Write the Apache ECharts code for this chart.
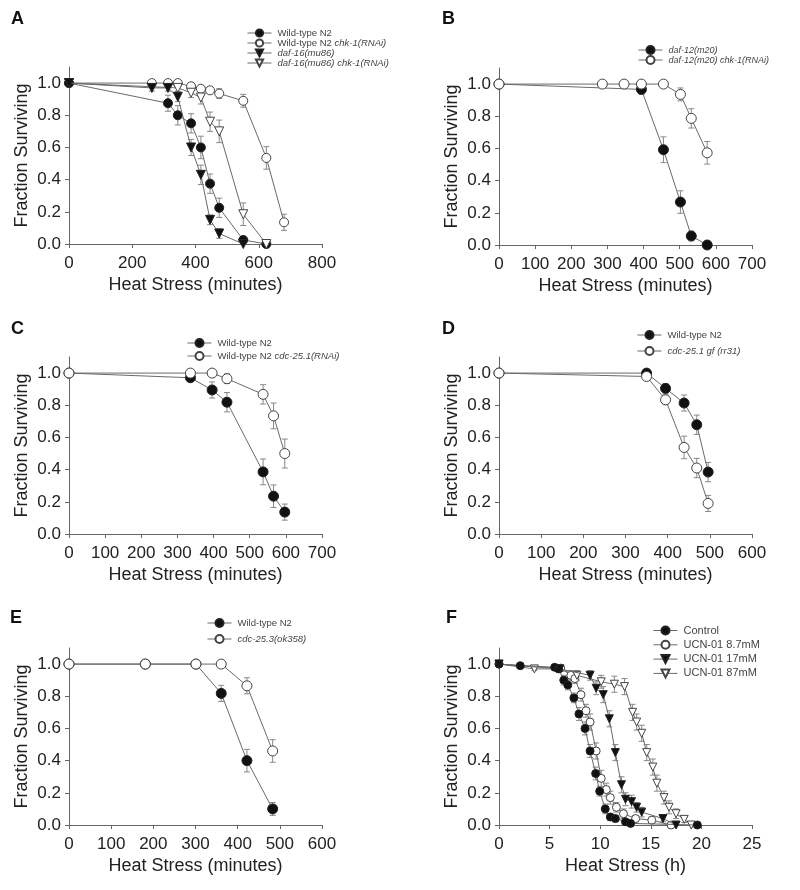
<!DOCTYPE html>
<html><head><meta charset="utf-8">
<script src="https://cdn.jsdelivr.net/npm/echarts@6/dist/echarts.min.js"></script>
<style>html,body{margin:0;padding:0;background:#fff}#c{width:800px;height:890px}</style>
</head><body><div id="c"></div>
<script>
// Each point: [x, fraction surviving, error (sem)]
// Panel A
const A_wt = [[0,1,0],[313,0.875,0.05],[344,0.80,0.06],[386,0.75,0.06],[417,0.60,0.07],[446,0.375,0.06],[475,0.225,0.06],[551,0.025,0.02],[624,0,0]];
const A_chk = [[0,1,0],[262,1,0],[313,1,0.01],[344,1,0.01],[386,0.98,0.02],[417,0.965,0.02],[446,0.955,0.02],[475,0.935,0.03],[551,0.89,0.04],[624,0.535,0.07],[680,0.135,0.05]];
const A_daf = [[0,1,0],[262,0.97,0.02],[313,0.97,0.02],[344,0.915,0.03],[386,0.60,0.05],[417,0.43,0.06],[446,0.15,0.03],[475,0.065,0.03],[551,0,0]];
const A_dafchk = [[0,1,0],[344,0.97,0.02],[386,0.94,0.03],[417,0.91,0.04],[446,0.76,0.06],[475,0.70,0.07],[551,0.185,0.07],[624,0,0]];
// Panel B
const B_daf12 = [[0,1,0],[394,0.967,0.03],[455,0.592,0.08],[502,0.267,0.07],[532,0.056,0.03],[576,0,0]];
const B_daf12chk = [[0,1,0],[286,1,0],[346,1,0],[394,1,0],[455,1,0],[502,0.936,0.04],[532,0.787,0.06],[576,0.573,0.07]];
// Panel C
const C_wt = [[0,1,0],[336,0.971,0.02],[396,0.895,0.05],[437,0.819,0.06],[537,0.386,0.08],[566,0.235,0.07],[597,0.136,0.05]];
const C_cdc = [[0,1,0],[336,1,0],[396,1,0],[437,0.965,0.03],[537,0.868,0.06],[566,0.734,0.08],[597,0.50,0.09]];
// Panel D
const D_wt = [[0,1,0],[350,1,0],[395,0.905,0.03],[439,0.814,0.05],[469,0.679,0.06],[496,0.385,0.06]];
const D_gf = [[0,1,0],[350,0.979,0.01],[395,0.834,0.03],[439,0.538,0.07],[469,0.41,0.06],[496,0.19,0.05]];
// Panel E
const E_wt = [[0,1,0],[181,1,0],[301,1,0],[361,0.818,0.05],[422,0.40,0.07],[483,0.10,0.04]];
const E_cdc = [[0,1,0],[181,1,0],[301,1,0],[361,1,0],[422,0.865,0.05],[483,0.46,0.07]];
// Panel F (hours)
const F_ctrl = [[0,1,0],[2.1,0.99,0],[5.5,0.98,0.01],[5.9,0.97,0.01],[6.4,0.90,0.03],[6.8,0.87,0.03],[7.4,0.79,0.03],[7.9,0.69,0.04],[8.5,0.60,0.04],[9.0,0.46,0.04],[9.55,0.32,0.04],[9.95,0.21,0.03],[10.5,0.10,0.03],[11.0,0.05,0.02],[11.5,0.04,0.02],[12.5,0.02,0.01],[13.0,0.01,0],[19.6,0,0]];
const F_87 = [[0,1,0],[6.1,0.975,0.01],[7.1,0.93,0.03],[7.5,0.91,0.03],[8.1,0.81,0.04],[8.6,0.71,0.04],[9.0,0.64,0.05],[9.6,0.46,0.05],[10.1,0.29,0.05],[10.6,0.22,0.04],[11.0,0.17,0.04],[11.6,0.11,0.03],[12.3,0.07,0.03],[13.5,0.04,0.02],[15.1,0.03,0.02],[17.0,0,0]];
const F_17 = [[0,1,0],[6.0,0.97,0.01],[9.0,0.93,0.03],[9.6,0.85,0.04],[10.3,0.81,0.05],[10.9,0.66,0.05],[11.5,0.45,0.05],[12.1,0.25,0.05],[12.5,0.16,0.04],[13.1,0.145,0.04],[13.6,0.11,0.03],[14.1,0.08,0.03],[16.2,0.04,0.02],[17.5,0,0]];
const F_870 = [[0,1,0],[3.5,0.97,0.01],[6.0,0.97,0.01],[7.7,0.93,0.03],[10.1,0.89,0.04],[11.4,0.875,0.05],[12.4,0.86,0.05],[13.2,0.70,0.05],[13.6,0.64,0.05],[14.1,0.57,0.05],[14.6,0.45,0.05],[15.2,0.36,0.05],[15.6,0.26,0.05],[16.3,0.17,0.04],[16.8,0.11,0.04],[17.5,0.07,0.03],[18.3,0.035,0.02],[19.0,0,0]];

// Axis ticks
const xTicksA = [0,800,200], xTicksB = [0,700,100], xTicksC = [0,700,100], xTicksD = [0,600,100], xTicksE = [0,600,100], xTicksF = [0,25,5];
const yTicks = [0,0.2,0.4,0.6,0.8,1.0];
const panelLetters = ['A','B','C','D','E','F'];
const xTitles = ['Heat Stress (minutes)','Heat Stress (minutes)','Heat Stress (minutes)','Heat Stress (minutes)','Heat Stress (minutes)','Heat Stress (h)'];
const yTitle = 'Fraction Surviving';

// Legend labels: [normal part, italic part]
const labels = {
  A0:['Wild-type N2',''], A1:['Wild-type N2 ','chk-1(RNAi)'], A2:['','daf-16(mu86)'], A3:['','daf-16(mu86) chk-1(RNAi)'],
  B0:['','daf-12(m20)'], B1:['','daf-12(m20) chk-1(RNAi)'],
  C0:['Wild-type N2',''], C1:['Wild-type N2 ','cdc-25.1(RNAi)'],
  D0:['Wild-type N2',''], D1:['','cdc-25.1 gf (rr31)'],
  E0:['Wild-type N2',''], E1:['','cdc-25.3(ok358)'],
  F0:['Control',''], F1:['UCN-01 8.7mM',''], F2:['UCN-01 17mM',''], F3:['UCN-01 87mM','']
};

const FONT = 'Liberation Sans, Arial, sans-serif';
const grids = [
  {left:69, top:67, width:253, height:177},
  {left:499, top:68, width:253, height:177},
  {left:69, top:357, width:253, height:177},
  {left:499, top:357, width:253, height:177},
  {left:69, top:648, width:253, height:177},
  {left:499, top:648, width:253, height:177}
];
const xt = [xTicksA, xTicksB, xTicksC, xTicksD, xTicksE, xTicksF];
const axisColor = '#666';
const lineColor = '#6a6a6a';

const xAxis = xt.map((t,i)=>({
  type:'value', gridIndex:i, min:t[0], max:t[1], interval:t[2],
  name:xTitles[i], nameLocation:'middle', nameGap:32,
  nameTextStyle:{fontFamily:FONT, fontSize:18, color:'#222'},
  axisLine:{show:true, lineStyle:{color:axisColor, width:1}},
  axisTick:{show:true, length:4, lineStyle:{color:axisColor}},
  axisLabel:{fontFamily:FONT, fontSize:17, color:'#222', margin:11},
  splitLine:{show:false}
}));
const yAxis = grids.map((g,i)=>({
  type:'value', gridIndex:i, min:0, max:1.1,
  name:yTitle, nameLocation:'middle', nameGap:38, nameRotate:90,
  nameTextStyle:{fontFamily:FONT, fontSize:18, color:'#222'},
  axisLine:{show:true, lineStyle:{color:axisColor, width:1}},
  axisTick:{show:true, length:4, lineStyle:{color:axisColor}, customValues:yTicks},
  axisLabel:{fontFamily:FONT, fontSize:17, color:'#222', margin:8, customValues:yTicks, formatter:v=>v.toFixed(1)},
  splitLine:{show:false}
}));

const styles = {
  filledCircle:{symbol:'circle', rot:0, color:'#111', border:'#222'},
  openCircle:{symbol:'circle', rot:0, color:'#fff', border:'#444'},
  filledTri:{symbol:'triangle', rot:180, color:'#111', border:'#222'},
  openTri:{symbol:'triangle', rot:180, color:'#fff', border:'#444'}
};

const series = [];
function add(id, data, gi, st, size, z){
  series.push({
    type:'custom', name:id+'_err', xAxisIndex:gi, yAxisIndex:gi, data:data, z:1, silent:true,
    encode:{x:0, y:1},
    renderItem:(params, api)=>{
      const x=api.value(0), y=api.value(1), e=api.value(2);
      if(!e) return null;
      const lo=api.coord([x,y-e]), hi=api.coord([x,y+e]), w=3;
      const s={stroke:'#888', lineWidth:1};
      return {type:'group', children:[
        {type:'line', shape:{x1:lo[0],y1:lo[1],x2:hi[0],y2:hi[1]}, style:s},
        {type:'line', shape:{x1:hi[0]-w,y1:hi[1],x2:hi[0]+w,y2:hi[1]}, style:s},
        {type:'line', shape:{x1:lo[0]-w,y1:lo[1],x2:lo[0]+w,y2:lo[1]}, style:s}
      ]};
    }
  });
  series.push({
    type:'line', name:id, xAxisIndex:gi, yAxisIndex:gi,
    data:data.map(d=>[d[0],d[1]]),
    symbol:st.symbol, symbolSize:size, symbolRotate:st.rot, showAllSymbol:true,
    lineStyle:{color:lineColor, width:1},
    itemStyle:{color:st.color, borderColor:st.border, borderWidth:1},
    emphasis:{disabled:true}, z:z||2, clip:false
  });
}
add('A0', A_wt, 0, styles.filledCircle, 9, 3);
add('A1', A_chk, 0, styles.openCircle, 9, 2);
add('A2', A_daf, 0, styles.filledTri, 9, 4);
add('A3', A_dafchk, 0, styles.openTri, 9, 3);
add('B0', B_daf12, 1, styles.filledCircle, 10, 2);
add('B1', B_daf12chk, 1, styles.openCircle, 10, 3);
add('C0', C_wt, 2, styles.filledCircle, 10, 2);
add('C1', C_cdc, 2, styles.openCircle, 10, 3);
add('D0', D_wt, 3, styles.filledCircle, 10, 2);
add('D1', D_gf, 3, styles.openCircle, 10, 3);
add('E0', E_wt, 4, styles.filledCircle, 10, 2);
add('E1', E_cdc, 4, styles.openCircle, 10, 3);
add('F0', F_ctrl, 5, styles.filledCircle, 8, 3);
add('F1', F_87, 5, styles.openCircle, 8, 2);
add('F2', F_17, 5, styles.filledTri, 8, 3);
add('F3', F_870, 5, styles.openTri, 8, 2);

function legend(ids, left, top, ih, gap, fs){
  return {
    orient:'vertical', left:left, top:top, itemWidth:24, itemHeight:ih, itemGap:gap,
    padding:0, data:ids, selectedMode:false, iconRotate:'inherit',
    lineStyle:{color:lineColor, width:1},
    formatter:n=>{const p=labels[n]; let s=''; if(p[0]) s+='{n|'+p[0]+'}'; if(p[1]) s+='{i|'+p[1]+'}'; return s;},
    textStyle:{fontFamily:FONT, fontSize:fs, color:'#444', padding:[0,0,0,1],
      rich:{n:{fontFamily:FONT, fontSize:fs, color:'#444'}, i:{fontFamily:FONT, fontSize:fs, color:'#444', fontStyle:'italic'}}}
  };
}
const legends = [
  legend(['A0','A1','A2','A3'], 247, 28, 9, 0, 9.5),
  legend(['B0','B1'], 638, 45, 10, 0, 9),
  legend(['C0','C1'], 187, 338, 10, 3, 9.5),
  legend(['D0','D1'], 637, 330, 10, 6, 9.5),
  legend(['E0','E1'], 207, 618, 10, 6, 9.5),
  legend(['F0','F1','F2','F3'], 653, 625, 10, 3.3, 11)
];

const letterPos = [[11,10],[442,10],[11,320],[442,320],[10,609],[446,609]];
const graphics = panelLetters.map((L,i)=>({
  type:'text', left:letterPos[i][0], top:letterPos[i][1],
  style:{text:L, font:'bold 18px '+FONT, fill:'#111'}
}));

const chart = echarts.init(document.getElementById('c'), null, {renderer:'canvas'});
chart.setOption({
  animation:false,
  backgroundColor:'#fff',
  grid:grids.map(g=>Object.assign({containLabel:false}, g)),
  xAxis:xAxis, yAxis:yAxis,
  legend:legends,
  graphic:graphics,
  series:series
});
</script></body></html>
